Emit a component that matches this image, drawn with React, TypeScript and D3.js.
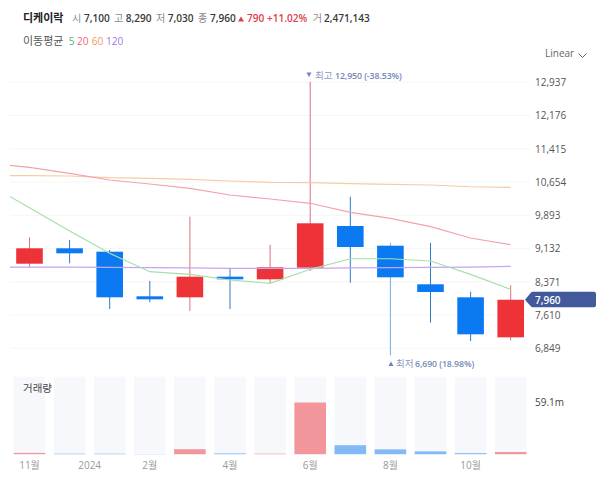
import React from "react";
import * as d3 from "d3";

const opens = [8785, 9138, 9060, 8039, 8016, 8488, 8428, 8694, 9648, 9197, 8314, 8016, 7100];
const closes = [9138, 9023, 8016, 7970, 8488, 8428, 8703, 9710, 9167, 8474, 8137, 7169, 7960];
const highs = [9389, 9327, 9099, 8389, 9861, 8664, 9220, 12950, 10319, 9259, 9259, 8144, 8290];
const lows = [8716, 8794, 7748, 7902, 7702, 7748, 8343, 8618, 8350, 6690, 7435, 7016, 7030];
const volumes = [1.5, 0.6, 0.6, 0.2, 5.7, 0.9, 0.6, 59.1, 10.3, 5.5, 3.2, 1.2, 2.47];

// moving averages: first value belongs to the month left of the visible range
const ma5 = [10586, 10067, 9533, 9023, 8602, 8542, 8412, 8336, 8657, 8899, 8899, 8847, 8542, 8199];
const ma20 = [11085, 10992, 10854, 10701, 10609, 10511, 10357, 10266, 10168, 9962, 9824, 9632, 9373, 9220];
const ma60 = [10799, 10799, 10792, 10753, 10740, 10717, 10678, 10648, 10639, 10616, 10602, 10586, 10547, 10534];
const ma120 = [8709, 8709, 8705, 8700, 8695, 8690, 8680, 8680, 8678, 8690, 8695, 8700, 8705, 8726];

const priceTicks = [12937, 12176, 11415, 10654, 9893, 9132, 8371, 7610, 6849];
const monthLabels: [number, string][] = [
  [0, "11월"], [1.5, "2024"], [3, "2월"], [5, "4월"], [7, "6월"], [9, "8월"], [11, "10월"],
];
const header: [number, string, string, boolean][] = [
  [72, "시", "#8a8a8a", false], [84, "7,100", "#3a3a3a", true],
  [114, "고", "#8a8a8a", false], [125.7, "8,290", "#3a3a3a", true],
  [156, "저", "#8a8a8a", false], [167.7, "7,030", "#3a3a3a", true],
  [198, "종", "#8a8a8a", false], [210, "7,960", "#3a3a3a", true],
  [247, "790", "#e0404a", true], [267, "+11.02%", "#e0404a", true],
  [312.7, "거", "#8a8a8a", false], [324, "2,471,143", "#3a3a3a", true],
];
const maLegend: [number, string, string][] = [
  [68.7, "5", "#58b868"], [77, "20", "#ee6677"], [91.7, "60", "#ee9a5c"], [106, "120", "#a27ae4"],
];

const FONT = "'Open Sans','Noto Sans CJK KR',sans-serif";
const RED = "#ee3338";
const BLUE = "#0b7af2";

const x = d3.scaleLinear().domain([0, 12]).range([29.5, 510.7]);
const y = d3.scaleLinear().domain([6849, 12937]).range([348.3, 82.3]);
const vy = d3.scaleLinear().domain([0, 59.1]).range([454.2, 402.5]);
const line = d3
  .line<number>()
  .x((_, i) => x(i - 1))
  .y((d) => y(d));

export default function App() {
  const up = (i: number) => closes[i] >= opens[i];
  const maLines: [number[], string][] = [
    [ma120, "#c6a4f0"],
    [ma60, "#f6cca4"],
    [ma20, "#f3a2ac"],
    [ma5, "#a8dfa8"],
  ];
  return (
    <svg
      width={600}
      height={480}
      style={{ position: "absolute", left: 0, top: 0, background: "#fff", fontFamily: FONT }}
    >
      <defs>
        <clipPath id="plot">
          <rect x={10} y={60} width={530} height={300} />
        </clipPath>
      </defs>

      <text x={23} y={22} fontSize={11} fontWeight={700} fill="#222">디케이락</text>
      {header.map(([px, t, c, b]) => (
        <text key={px} x={px} y={22} fontSize={10.1} fontWeight={b ? 600 : 400} fill={c}>{t}</text>
      ))}
      <path d="M238 21.5 L241 16.5 L244 21.5 Z" fill="#e0404a" />
      <text x={23} y={45} fontSize={11} fill="#555">이동평균</text>
      {maLegend.map(([px, t, c]) => (
        <text key={t} x={px} y={45} fontSize={10.1} fill={c}>{t}</text>
      ))}

      <text x={545} y={57} fontSize={10} fill="#666">Linear</text>
      <path d="M578.5 53.5 L582.5 57.5 L586.5 53.5" fill="none" stroke="#666" strokeWidth={1} />

      {priceTicks.map((t) => (
        <g key={t}>
          <line x1={10} x2={530} y1={y(t)} y2={y(t)} stroke="#f6f6f6" />
          <text x={535} y={y(t) + 3.8} fontSize={10} fill="#555">{d3.format(",")(t)}</text>
        </g>
      ))}

      {volumes.map((v, i) => (
        <g key={i}>
          <rect x={x(i) - 15.8} y={376.7} width={31.6} height={77.6} fill="#f6f8fc" />
          <rect
            x={x(i) - 15.8}
            y={vy(v)}
            width={31.6}
            height={vy(0) - vy(v)}
            fill={up(i) ? "#f2969c" : "#82b9f6"}
          />
        </g>
      ))}
      <text x={23} y={392} fontSize={10.5} fill="#444">거래량</text>
      <text x={535} y={406} fontSize={10} fill="#444">59.1m</text>
      {monthLabels.map(([i, t]) => (
        <text key={t} x={x(i)} y={468.5} fontSize={10} textAnchor="middle" fill="#999">{t}</text>
      ))}

      {opens.map((o, i) => {
        const c = closes[i];
        const color = up(i) ? RED : BLUE;
        return (
          <g key={i}>
            <line
              x1={x(i)}
              x2={x(i)}
              y1={y(highs[i])}
              y2={y(lows[i])}
              stroke={up(i) ? "#d8707e" : i === 9 ? "#6fb0dc" : "#2a7cc4"}
              strokeWidth={1}
            />
            <rect
              x={x(i) - 13.3}
              y={y(Math.max(o, c))}
              width={26.6}
              height={Math.abs(y(o) - y(c))}
              fill={color}
            />
          </g>
        );
      })}

      <g clipPath="url(#plot)">
        {maLines.map(([d, c]) => (
          <path key={c} d={line(d) ?? ""} fill="none" stroke={c} strokeWidth={1.2} />
        ))}
      </g>

      <path d="M306.5 72.5 L311.5 72.5 L309 77 Z" fill="#6f84b4" />
      <text x={315} y={79} fontSize={9.5} fill="#8a9bc2">최고</text>
      <text x={335} y={79} fontSize={8.8} fontWeight={600} letterSpacing={-0.1} fill="#7488b8">12,950 (-38.53%)</text>
      <path d="M388.5 366 L393.5 366 L391 361.5 Z" fill="#6f84b4" />
      <text x={396} y={367} fontSize={9.5} fill="#8a9bc2">최저</text>
      <text x={415} y={367} fontSize={8.8} fontWeight={600} letterSpacing={-0.1} fill="#7488b8">6,690 (18.98%)</text>

      <path
        d="M525 299.7 L531 292.5 Q531.5 291.7 533 291.7 L594 291.7 Q596 291.7 596 293.7 L596 305.3 Q596 307.3 594 307.3 L533 307.3 Q531.5 307.3 531 306.5 Z"
        fill="#425a9b"
      />
      <text x={535} y={303.5} fontSize={10} fontWeight={600} fill="#fff">7,960</text>
    </svg>
  );
}
